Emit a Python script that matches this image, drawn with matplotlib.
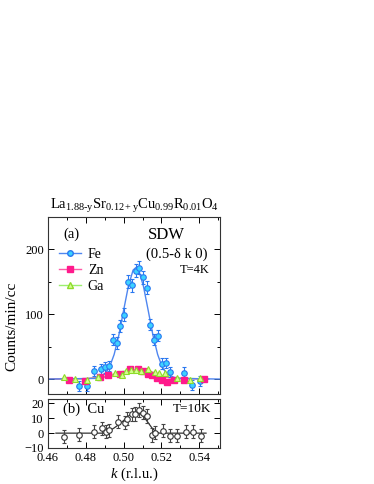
import matplotlib
matplotlib.use("Agg")
import matplotlib.pyplot as plt
from matplotlib.lines import Line2D

plt.rcParams['font.family'] = ['Liberation Serif', 'DejaVu Serif']
plt.rcParams['mathtext.fontset'] = 'custom'
plt.rcParams['mathtext.rm'] = 'Liberation Serif'
plt.rcParams['mathtext.it'] = 'Liberation Serif:italic'

# panel (a), T=4K
k_fe = [0.4762, 0.4805, 0.4843, 0.4880, 0.4903, 0.4924, 0.4946, 0.4963, 0.4981,
        0.5004, 0.5023, 0.5043, 0.5064, 0.5081, 0.5104, 0.5122, 0.5140, 0.5163,
        0.5184, 0.5205, 0.5224, 0.5245, 0.5321, 0.5362, 0.5404]
fe = [-11, -11, 12, 16, 18, 20, 61, 56, 82, 99, 150, 145, 167, 172, 157, 141,
      84, 61, 67, 24, 25, 11, 10, -9, -3]
fe_err = [8, 8, 8, 8, 8, 8, 9, 9, 9, 10, 10, 10, 10, 10, 10, 10, 9, 9, 9, 8, 8, 8, 8, 8, 8]

k_fe_fit = [0.460, 0.485, 0.490, 0.4925, 0.495, 0.4975, 0.500, 0.5025, 0.505, 0.5065,
            0.508, 0.5105, 0.513, 0.5155, 0.518, 0.5205, 0.523, 0.528, 0.551]
fe_fit = [0, 1, 7.5, 18, 38, 68, 106, 143, 168, 172, 168, 143, 106, 68, 38, 18, 7.5, 1, 0]

k_zn = [0.4713, 0.4796, 0.4875, 0.4919, 0.4981, 0.5034, 0.5074, 0.5105, 0.5128,
        0.5149, 0.5175, 0.5205, 0.5228, 0.5268, 0.5318, 0.5427]
zn = [-2, -3, 3, 6, 8, 16, 16, 13, 8, 6, 2, -2, -4, -2, -2, 0]

k_ga = [0.4685, 0.4743, 0.4805, 0.4863, 0.4954, 0.4989, 0.5013, 0.5037, 0.5064,
        0.5090, 0.5131, 0.5166, 0.5189, 0.5219, 0.5281, 0.5351, 0.5404]
ga = [3.5, 0, -1.5, 3.5, 9, 7, 13, 14, 14, 13, 16, 11, 10, 9, 1, -1.5, 1]

k_small_fit = [0.460, 0.480, 0.490, 0.495, 0.500, 0.505, 0.508, 0.512, 0.516, 0.520, 0.526, 0.545]
zn_fit = [0, 0.5, 3, 7, 11, 14, 14, 12, 8, 4, 1, 0]
ga_fit = [0, 0.5, 4, 8, 12, 14, 14, 13, 10, 6, 2, 0]

# panel (b), Cu, T=10K
k_cu = [0.4685, 0.4766, 0.4843, 0.4884, 0.4905, 0.4923, 0.4969, 0.5007, 0.5019,
        0.5043, 0.5060, 0.5083, 0.5104, 0.5126, 0.5149, 0.5166, 0.5210, 0.5245,
        0.5284, 0.5329, 0.5366, 0.5408]
cu = [-2.4, -1.1, 0.9, 3.3, 0.9, 2.0, 7.8, 7.0, 9.8, 12.7, 13.0, 15.5, 13.8, 11.6,
      -1.3, 0.4, 1.6, -1.8, -1.8, 0.9, 0.9, -1.8]
cu_err = [4.5] * len(k_cu)

k_cu_fit = [0.4642, 0.490, 0.4925, 0.495, 0.4975, 0.500, 0.5025, 0.505, 0.507, 0.509,
            0.511, 0.513, 0.515, 0.517, 0.519, 0.5436]
cu_fit = [0, 0, 1.5, 3.5, 5.8, 8.5, 11.5, 13.5, 14, 13, 10.5, 7, 3.5, 1, 0, 0]

fe_line, fe_face, fe_edge = '#4f86f0', '#3cd2ff', '#2a78f0'
zn_line, zn_face = '#ff5aa8', '#ff1a8c'
ga_line, ga_face, ga_edge = '#9cef6e', '#d4ff8f', '#8edb2a'

fig = plt.figure(figsize=(3.74, 4.84), dpi=100)
ax1 = fig.add_axes([0.1283, 0.186, 0.460, 0.3657])
ax2 = fig.add_axes([0.1283, 0.0744, 0.460, 0.1012])

# top panel
ax1.plot(k_small_fit, ga_fit, color=ga_line, lw=1, zorder=1)
ax1.plot(k_small_fit, zn_fit, color=zn_line, lw=1, zorder=1)
ax1.plot(k_fe_fit, fe_fit, color=fe_line, lw=1, zorder=2)
ax1.errorbar(k_fe, fe, yerr=fe_err, fmt='o', ms=4, mfc=fe_face, mec=fe_edge, mew=0.8,
             ecolor=fe_edge, elinewidth=0.8, capsize=1.5, zorder=3)
ax1.plot(k_zn, zn, 's', ms=4.5, mfc=zn_face, mec=zn_face, zorder=4)
ax1.plot(k_ga, ga, '^', ms=5, mfc=ga_face, mec=ga_edge, mew=0.8, zorder=5)

ax1.set_xlim(0.46, 0.551)
ax1.set_ylim(-23, 250)
ax1.set_yticks([0, 100, 200])
ax1.set_yticks([50, 150], minor=True)
ax1.set_xticks([0.46, 0.48, 0.50, 0.52, 0.54])
ax1.set_xticks([0.47, 0.49, 0.51, 0.53, 0.55], minor=True)
ax1.tick_params(labelbottom=False)
ax1.set_title('La$_{\\mathrm{1.88\\text{-}y}}$Sr$_{\\mathrm{0.12+y}}$Cu$_{0.99}$R$_{0.01}$O$_4$',
              fontsize=10.5, pad=6)

handles = [
    Line2D([], [], color=fe_line, lw=1, marker='o', ms=4, mfc=fe_face, mec=fe_edge),
    Line2D([], [], color=zn_line, lw=1, marker='s', ms=4.5, mfc=zn_face, mec=zn_face),
    Line2D([], [], color=ga_line, lw=1, marker='^', ms=5, mfc=ga_face, mec=ga_edge),
]
ax1.legend(handles, ['Fe', 'Zn', 'Ga'], loc='upper left', bbox_to_anchor=(0.03, 0.858),
           frameon=False, fontsize=10, handlelength=1.6, handletextpad=0.5,
           labelspacing=0.22, borderaxespad=0.0)
ax1.text(0.087, 0.90, '(a)', transform=ax1.transAxes, fontsize=10.5, va='center')
ax1.text(0.69, 0.90, 'SDW', transform=ax1.transAxes, fontsize=12, va='center', ha='center')
ax1.text(0.75, 0.79, '(0.5-δ k 0)', transform=ax1.transAxes, fontsize=10.5,
         va='center', ha='center')
ax1.text(0.85, 0.70, 'T=4K', transform=ax1.transAxes, fontsize=9, va='center', ha='center')

# bottom panel
ax2.plot(k_cu_fit, cu_fit, color='#333333', lw=0.9, zorder=1)
ax2.errorbar(k_cu, cu, yerr=cu_err, fmt='o', ms=4, mfc='white', mec='#333333', mew=0.8,
             ecolor='#444444', elinewidth=0.8, capsize=1.5, zorder=3)
ax2.set_xlim(0.46, 0.551)
ax2.set_ylim(-10, 23)
ax2.set_yticks([-10, 0, 10, 20])
ax2.set_xticks([0.46, 0.48, 0.50, 0.52, 0.54])
ax2.set_xticks([0.47, 0.49, 0.51, 0.53, 0.55], minor=True)
ax2.set_xticklabels(['0.46', '0.48', '0.50', '0.52', '0.54'])
ax2.set_xlabel('$k$ (r.l.u.)', fontsize=10.5, labelpad=1)
ax2.text(0.087, 0.80, '(b)  Cu', transform=ax2.transAxes, fontsize=10.5, va='center')
ax2.text(0.84, 0.80, 'T=10K', transform=ax2.transAxes, fontsize=9.5, va='center', ha='center')

for ax in (ax1, ax2):
    ax.tick_params(which='both', direction='in', top=True, right=True, labelsize=9,
                   width=0.7, pad=3)
    ax.tick_params(which='major', length=4)
    ax.tick_params(which='minor', length=2.5)
    for s in ax.spines.values():
        s.set_linewidth(0.8)
        s.set_color('#333333')

fig.text(0.032, 0.326, 'Counts/min/cc', rotation=90, fontsize=11, va='center', ha='center')

fig.savefig('out.png', dpi=100)
